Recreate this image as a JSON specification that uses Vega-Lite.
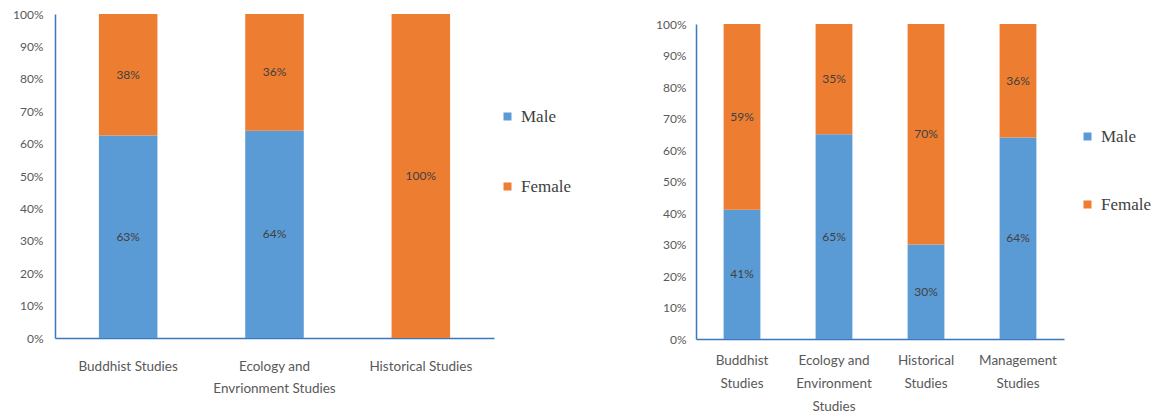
{
  "$schema": "https://vega.github.io/schema/vega-lite/v6.json",
  "background": "white",
  "padding": {"left": 12, "top": 8, "right": 5, "bottom": 5},
  "config": {
    "view": {"stroke": null},
    "axis": {"labelFont": "Lato", "labelColor": "#595959", "ticks": false, "grid": false, "domainColor": "#3b78c0", "domainWidth": 1.5, "labelFontSize": 12},
    "legend": {"title": null, "orient": "none", "symbolType": "square", "symbolSize": 64, "symbolStrokeWidth": 0, "labelFont": "Liberation Serif", "labelFontSize": 17, "labelColor": "#404040", "padding": 0, "labelOffset": 5}
  },
  "datasets": {
    "left": [
      {"category": "Buddhist Studies", "sex": "Male", "share": 0.625},
      {"category": "Buddhist Studies", "sex": "Female", "share": 0.375},
      {"category": "Ecology and\nEnvrionment Studies", "sex": "Male", "share": 0.64},
      {"category": "Ecology and\nEnvrionment Studies", "sex": "Female", "share": 0.36},
      {"category": "Historical Studies", "sex": "Female", "share": 1.0}
    ],
    "right": [
      {"category": "Buddhist\nStudies", "sex": "Male", "share": 0.41},
      {"category": "Buddhist\nStudies", "sex": "Female", "share": 0.59},
      {"category": "Ecology and\nEnvironment\nStudies", "sex": "Male", "share": 0.65},
      {"category": "Ecology and\nEnvironment\nStudies", "sex": "Female", "share": 0.35},
      {"category": "Historical\nStudies", "sex": "Male", "share": 0.30},
      {"category": "Historical\nStudies", "sex": "Female", "share": 0.70},
      {"category": "Management\nStudies", "sex": "Male", "share": 0.64},
      {"category": "Management\nStudies", "sex": "Female", "share": 0.36}
    ]
  },
  "spacing": 83,
  "resolve": {"scale": {"color": "independent", "x": "independent", "y": "independent"}, "legend": {"color": "independent"}},
  "hconcat": [
    {
      "width": 439,
      "height": 324,
      "data": {"name": "left"},
      "encoding": {
        "x": {"field": "category", "type": "nominal", "sort": null, "scale": {"paddingInner": 0.6, "paddingOuter": 0.3},
              "axis": {"title": null, "labelAngle": 0, "labelExpr": "split(datum.label, '\\n')", "labelPadding": 21, "labelFontSize": 13.5, "labelLineHeight": 22}},
        "y": {"field": "share", "type": "quantitative", "stack": "zero", "scale": {"domain": [0, 1]},
              "axis": {"title": null, "format": ".0%", "values": [0, 0.1, 0.2, 0.3, 0.4, 0.5, 0.6, 0.7, 0.8, 0.9, 1], "labelPadding": 12}},
        "order": {"field": "sex", "sort": "descending"}
      },
      "layer": [
        {
          "mark": {"type": "bar"},
          "encoding": {
            "color": {"field": "sex", "type": "nominal", "scale": {"domain": ["Male", "Female"], "range": ["#5b9bd5", "#ed7d31"]},
                      "legend": {"legendX": 444, "legendY": 94, "rowPadding": 52}}
          }
        },
        {
          "mark": {"type": "text", "font": "Lato", "fontSize": 12, "color": "#404040"},
          "encoding": {
            "y": {"field": "share", "type": "quantitative", "stack": "zero", "bandPosition": 0.5},
            "detail": {"field": "sex"},
            "text": {"field": "share", "type": "quantitative", "format": ".0%"}
          }
        }
      ]
    },
    {
      "width": 368,
      "height": 325,
      "data": {"name": "right"},
      "encoding": {
        "x": {"field": "category", "type": "nominal", "sort": null, "scale": {"paddingInner": 0.6, "paddingOuter": 0.3},
              "axis": {"title": null, "labelAngle": 0, "labelExpr": "split(datum.label, '\\n')", "labelPadding": 14, "labelFontSize": 13.5, "labelLineHeight": 23}},
        "y": {"field": "share", "type": "quantitative", "stack": "zero", "scale": {"domain": [0, 1], "range": [325, 10]},
              "axis": {"title": null, "format": ".0%", "values": [0, 0.1, 0.2, 0.3, 0.4, 0.5, 0.6, 0.7, 0.8, 0.9, 1], "labelPadding": 10}},
        "order": {"field": "sex", "sort": "descending"}
      },
      "layer": [
        {
          "mark": {"type": "bar"},
          "encoding": {
            "color": {"field": "sex", "type": "nominal", "scale": {"domain": ["Male", "Female"], "range": ["#5b9bd5", "#ed7d31"]},
                      "legend": {"legendX": 383, "legendY": 114, "rowPadding": 50}}
          }
        },
        {
          "mark": {"type": "text", "font": "Lato", "fontSize": 12, "color": "#404040"},
          "encoding": {
            "y": {"field": "share", "type": "quantitative", "stack": "zero", "bandPosition": 0.5},
            "detail": {"field": "sex"},
            "text": {"field": "share", "type": "quantitative", "format": ".0%"}
          }
        }
      ]
    }
  ]
}
